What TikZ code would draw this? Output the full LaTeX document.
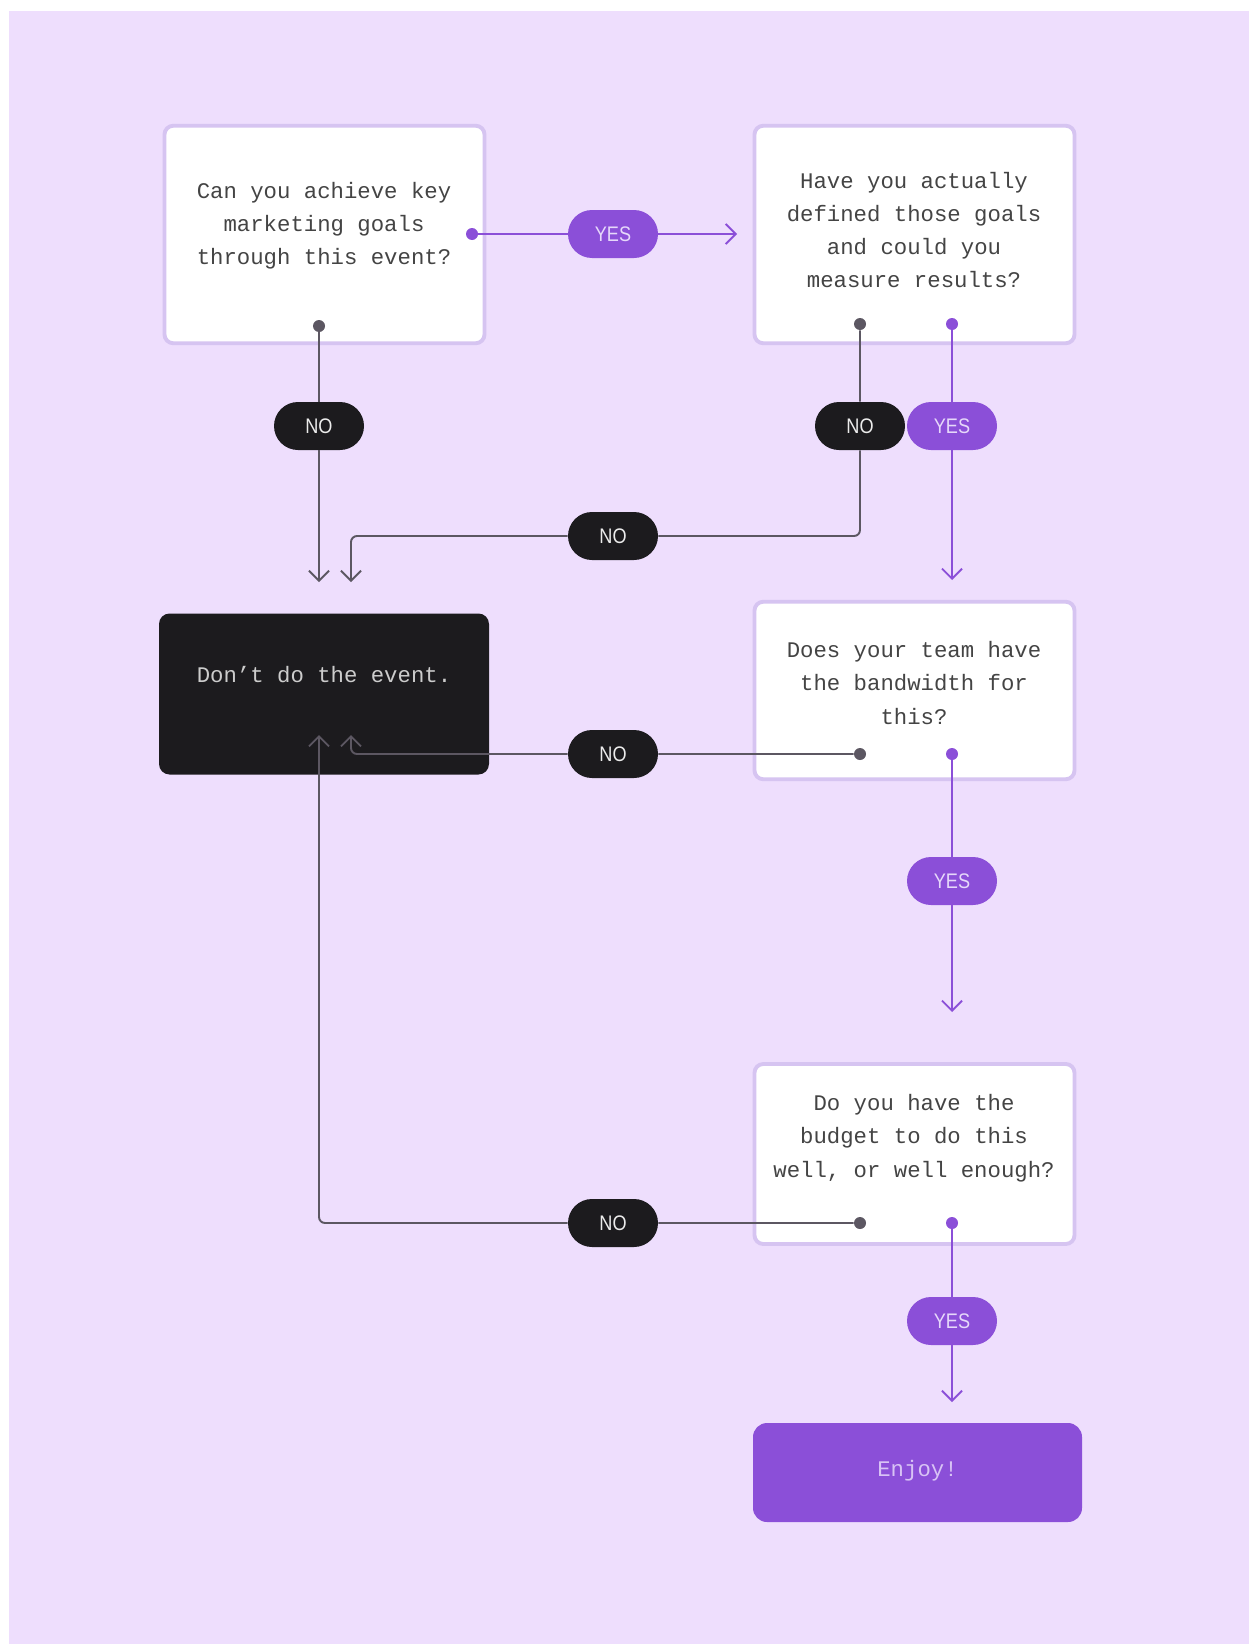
\documentclass[tikz,border=0pt]{standalone}
\usepackage{fontspec}
\usepackage{xcolor}
\usepackage{tikz}
\usetikzlibrary{arrows.meta,positioning}
\newfontfamily\boxfont{Liberation Mono}
\newfontfamily\pillfont[FakeStretch=0.86]{Liberation Sans}
\definecolor{bgLav}{HTML}{EEDEFD}
\definecolor{boxEdge}{HTML}{D6C4F1}
\definecolor{purp}{HTML}{8B4FD8}
\definecolor{ink}{HTML}{1C1B1E}
\definecolor{lineGray}{HTML}{5C5762}
\definecolor{inkText}{HTML}{444444}
\definecolor{lavText}{HTML}{E6D8FA}

\begin{document}
\begin{tikzpicture}[>={Straight Barb[length=2mm,width=4mm]},
  qbox/.style={draw=boxEdge,line width=2.2pt,fill=white,rounded corners=5pt,minimum width=6.4cm},
  qtext/.style={font=\boxfont\fontsize{12.7}{18.9}\selectfont,text=inkText,align=center},
  pill/.style={rounded corners=0.48cm,minimum width=1.8cm,minimum height=0.96cm,inner sep=0pt,font=\pillfont\fontsize{12}{12}\selectfont},
  nopill/.style={pill,fill=ink,text=white!92!black},
  yespill/.style={pill,fill=purp,text=lavText},
  dot/.style={circle,inner sep=0pt,minimum size=0.24cm},
  nodot/.style={dot,fill=lineGray},
  yesdot/.style={dot,fill=purp},
  noline/.style={draw=lineGray,line width=1.1pt,rounded corners=0.12cm},
  yesline/.style={draw=purp,line width=1.1pt}]
\useasboundingbox (0,0) rectangle (24.96,-32.88);
\fill[white] (0,0) rectangle (24.96,-32.88);
\fill[bgLav] (0.18,-0.22) rectangle (25.2,-33.1);

% questions
\node[qbox,minimum height=4.35cm] (q1) at (6.49,-4.69) {};
\node[qtext] (q1t) at (6.48,-4.52) {Can you achieve key\\marketing goals\\through this event?};
\node[qbox,minimum height=4.35cm] (q2) at (18.29,-4.69) {};
\node[qtext] (q2t) at (18.28,-4.60) {Have you actually\\defined those goals\\and could you\\measure results?};
\node[qbox,minimum height=3.55cm] (q3) at (18.29,-13.81) {};
\node[qtext] (q3t) at (18.28,-13.66) {Does your team have\\the bandwidth for\\this?};
\node[qbox,minimum height=3.6cm] (q4) at (18.29,-23.08) {};
\node[qtext] (q4t) at (18.28,-22.76) {Do you have the\\budget to do this\\well, or well enough?};

% outcomes
\node[fill=ink,rounded corners=6pt,minimum width=6.6cm,minimum height=3.22cm] (stop) at (6.48,-13.88) {};
\node[qtext,text=white!80!black] (stopt) at (6.48,-13.50) {Don’t do the event.};
\node[fill=purp,rounded corners=8pt,minimum width=6.58cm,minimum height=1.98cm] (enjoy) at (18.35,-29.45) {};
\node[qtext,text=lavText!85!purp] (enjoyt) at (18.35,-29.42) {Enjoy!};

% dots
\node[yesdot] (d1r) at (9.44,-4.68) {};
\node[nodot] (d1b) at (6.38,-6.52) {};
\node[nodot] (d2n) at (17.20,-6.48) {};
\node[yesdot] (d2y) at (19.04,-6.48) {};
\node[nodot] (d3n) at (17.20,-15.08) {};
\node[yesdot] (d3y) at (19.04,-15.08) {};
\node[nodot] (d4n) at (17.20,-24.46) {};
\node[yesdot] (d4y) at (19.04,-24.46) {};

% arrow ends
\coordinate (t1) at (14.74,-4.68);
\coordinate (t2) at (6.38,-11.64);
\coordinate (t3) at (7.02,-11.64);
\coordinate (t4) at (19.04,-11.60);
\coordinate (t5) at (7.02,-14.70);
\coordinate (t6) at (6.38,-14.70);
\coordinate (t7) at (19.04,-20.24);
\coordinate (t8) at (19.04,-28.04);

% pills
\node[yespill] (y1) at (12.26,-4.68) {YES};
\node[nopill] (n1) at (6.38,-8.52) {NO};
\node[nopill] (n2) at (17.20,-8.52) {NO};
\node[yespill] (y2) at (19.04,-8.52) {YES};
\node[nopill] (n3) at (12.26,-10.72) {NO};
\node[nopill] (n4) at (12.26,-15.08) {NO};
\node[yespill] (y3) at (19.04,-17.62) {YES};
\node[nopill] (n5) at (12.26,-24.46) {NO};
\node[yespill] (y4) at (19.04,-26.42) {YES};

% connectors
\draw[yesline,->] (d1r) -- (y1) -- (t1);
\draw[noline,->] (d1b) -- (n1) -- (t2);
\draw[noline,->] (d2n) -- (n2) |- (n3) -| (t3);
\draw[yesline,->] (d2y) -- (y2) -- (t4);
\draw[noline,->] (d3n) -- (n4) -| (t5);
\draw[yesline,->] (d3y) -- (y3) -- (t7);
\draw[noline,->] (d4n) -- (n5) -| (t6);
\draw[yesline,->] (d4y) -- (y4) -- (t8);
\end{tikzpicture}
\end{document}
